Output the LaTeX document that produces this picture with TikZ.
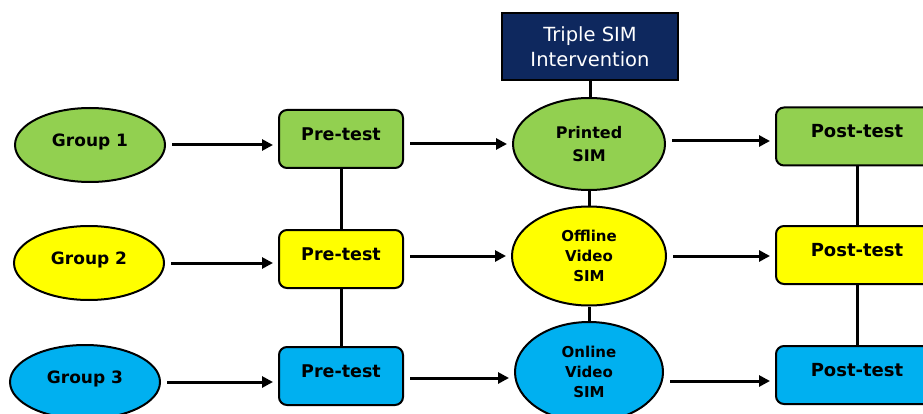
\documentclass[tikz,border=0pt]{standalone}
\usepackage{fontspec}
\setmainfont{DejaVu Sans}
\usetikzlibrary{shapes.geometric,arrows.meta,calc}
\definecolor{grpgreen}{RGB}{146,208,80}
\definecolor{grpyellow}{RGB}{255,255,0}
\definecolor{grpblue}{RGB}{0,176,240}
\definecolor{navybox}{RGB}{14,40,94}
\tikzset{
  base/.style={draw=black, line width=2pt, inner sep=0pt, align=center, font=\bfseries\fontsize{17}{20}\selectfont},
  % single-line labels sit a little above the middle of their shape
  raised/.style={text height=13pt, text depth=10pt},
  grp/.style={base, raised, ellipse, minimum width=150pt, minimum height=74pt},
  testbox/.style={base, raised, rectangle, rounded corners=8pt, minimum height=58pt},
  simnode/.style={base, ellipse, font=\bfseries\fontsize{15}{20}\selectfont},
  link/.style={line width=3pt},
  flow/.style={line width=3pt, -{Triangle[length=11pt,width=11pt]}, shorten <=6pt, shorten >=5pt},
}
\begin{document}
\begin{tikzpicture}[x=1pt,y=-1pt]
\useasboundingbox (0,0) rectangle (923,414);
\clip (0,0) rectangle (923,414);

% intervention header
\node[draw=black, line width=2pt, fill=navybox, text=white, align=center,
      minimum width=176pt, minimum height=67pt, inner sep=0pt,
      font=\fontsize{19.5}{25}\selectfont] (t) at (590,46.5) {Triple SIM\\Intervention};

% groups
\node[grp, fill=grpgreen]  (g1) at (90,145) {Group 1};
\node[grp, fill=grpyellow] (g2) at (89,263) {Group 2};
\node[grp, fill=grpblue]   (g3) at (85,382) {Group 3};

% pre-tests
\node[testbox, fill=grpgreen,  minimum width=124pt, font=\bfseries\fontsize{17.5}{20}\selectfont] (p1) at (341,139) {Pre-test};
\node[testbox, fill=grpyellow, minimum width=124pt, font=\bfseries\fontsize{17.5}{20}\selectfont] (p2) at (341,259) {Pre-test};
\node[testbox, fill=grpblue,   minimum width=124pt, font=\bfseries\fontsize{17.5}{20}\selectfont] (p3) at (341,376) {Pre-test};

% interventions
\node[simnode, fill=grpgreen, minimum width=152pt, minimum height=92pt,
      font=\bfseries\fontsize{16}{23}\selectfont] (s1) at (589,144) {Printed\\SIM};
\node[simnode, fill=grpyellow, minimum width=154pt, minimum height=99pt] (s2) at (589,256) {Offline\\Video\\SIM};
\node[simnode, fill=grpblue,   minimum width=148pt, minimum height=100pt] (s3) at (589,372) {Online\\Video\\SIM};

% post-tests
\node[testbox, fill=grpgreen,  minimum width=162pt, font=\bfseries\fontsize{18}{20}\selectfont] (q1) at (857,136.5) {Post-test};
\node[testbox, fill=grpyellow, minimum width=162pt, font=\bfseries\fontsize{18}{20}\selectfont] (q2) at (857,255) {Post-test};
\node[testbox, fill=grpblue,   minimum width=162pt, font=\bfseries\fontsize{18}{20}\selectfont] (q3) at (857,375) {Post-test};

% vertical links
\draw[link] (t.south) -- (t.south |- s1.north);
\draw[link] (p1.south) -- (p2.north);
\draw[link] (p2.south) -- (p3.north);
\draw[link] (s1.south) -- (s2.north);
\draw[link] (s2.south) -- (s3.north);
\draw[link] (q1.south) -- (q2.north);
\draw[link] (q2.south) -- (q3.north);

% row flows
\draw[flow] (g1.east) -- (g1.east -| p1.west);
\draw[flow] (g2.east) -- (g2.east -| p2.west);
\draw[flow] (g3.east) -- (g3.east -| p3.west);
\draw[flow] (p1.east |- s1.west) -- (s1.west);
\draw[flow] ($(p2.east)+(0,-3)$) -- ($(p2.east -| s2.west)+(0,-3)$);
\draw[flow] ($(p3.east)+(0,2)$) -- ($(p3.east -| s3.west)+(0,2)$);
\draw[flow] ($(s1.east)+(0,-3)$) -- ($(s1.east -| q1.west)+(0,-3)$);
\draw[flow] (s2.east) -- (s2.east -| q2.west);
\draw[flow] ($(s3.east)+(0,9)$) -- ($(s3.east -| q3.west)+(0,9)$);
\end{tikzpicture}
\end{document}
